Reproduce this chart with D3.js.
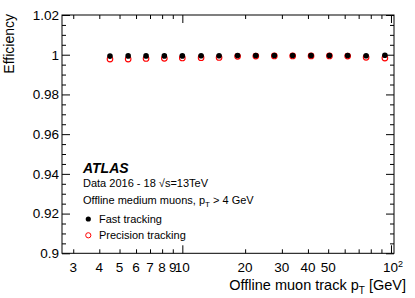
<!DOCTYPE html>
<html>
<head>
<meta charset="utf-8">
<script src="https://cdn.jsdelivr.net/npm/d3@7"></script>
<style>
body { margin:0; background:#fff; }
svg { display:block; font-family:"Liberation Sans", Arial, Helvetica, sans-serif; }
.axis path { stroke:#000; }
.axis line { stroke:#000; }
</style>
</head>
<body>
<svg id="chart" width="415" height="298"></svg>
<script>
// pT bin centres [GeV]
var pt_bins = [4.5, 5.5, 6.7, 8.2, 10, 12.3, 15, 18.4, 22.5, 27.6, 33.8, 41.4, 50.7, 62, 76, 93.5]
var eff_fast = [0.9993, 0.9994, 0.9994, 0.9994, 0.9994, 0.9995, 0.9995, 0.9996, 0.9996, 0.9996, 0.9996, 0.9996, 0.9996, 0.9996, 0.9995, 0.9997]
var eff_precision = [0.9978, 0.9978, 0.9981, 0.9982, 0.9984, 0.9985, 0.9986, 0.9992, 0.9993, 0.9994, 0.9994, 0.9994, 0.9994, 0.9993, 0.9987, 0.9983]
var x_major = [10, 100]
var x_minor = [3, 4, 5, 6, 7, 8, 9, 20, 30, 40, 50, 60, 70, 80, 90]
var x_labels = [3, 4, 5, 6, 7, 8, 9, 10, 20, 30, 40, 50, 100]
var y_major = [0.9, 0.92, 0.94, 0.96, 0.98, 1, 1.02]
var y_minor = [0.905, 0.91, 0.915, 0.925, 0.93, 0.935, 0.945, 0.95, 0.955, 0.965, 0.97, 0.975, 0.985, 0.99, 0.995, 1.005, 1.01, 1.015]
var info_lines = ['Data 2016 - 18 ', 'Offline medium muons, ']
var legend_names = ['Fast tracking', 'Precision tracking']

var svg = d3.select('#chart')
var m_left = 62, m_right = 394, m_top = 15, m_bottom = 253.3

var x = d3.scaleLog()
	.domain([2.65, 103.4])
	.range([m_left, m_right])
var y = d3.scaleLinear()
	.domain([0.9, 1.02])
	.range([m_bottom, m_top])

var fmt_y = function(d){ return String(+d.toFixed(2)) }

// frame
svg.append('rect')
	.attr('x', m_left).attr('y', m_top)
	.attr('width', m_right - m_left).attr('height', m_bottom - m_top)
	.attr('fill', 'none').attr('stroke', '#000').attr('stroke-width', 1)

function tickAxis(axis, tv, size, g_transform) {
	var g = svg.append('g')
		.attr('class', 'axis')
		.attr('transform', g_transform)
		.call(axis.tickValues(tv).tickSize(size).tickFormat(''))
	g.select('.domain').remove()
	return g
}
// minor and major ticks on all four sides, pointing inward
tickAxis(d3.axisBottom(x), x_minor, -4, 'translate(0,' + m_bottom + ')')
tickAxis(d3.axisBottom(x), x_major, -8, 'translate(0,' + m_bottom + ')')
tickAxis(d3.axisTop(x), x_minor, -4, 'translate(0,' + m_top + ')')
tickAxis(d3.axisTop(x), x_major, -8, 'translate(0,' + m_top + ')')
tickAxis(d3.axisLeft(y), y_minor, -4, 'translate(' + m_left + ',0)')
tickAxis(d3.axisLeft(y), y_major, -8, 'translate(' + m_left + ',0)')
tickAxis(d3.axisRight(y), y_minor, -4, 'translate(' + m_right + ',0)')
tickAxis(d3.axisRight(y), y_major, -8, 'translate(' + m_right + ',0)')

// y tick labels
svg.append('g')
	.selectAll('text')
	.data(y_major)
	.enter()
	.append('text')
	.attr('x', m_left - 3)
	.attr('y', function(d){ return y(d) + 4.8 })
	.attr('text-anchor', 'end')
	.attr('font-size', 13.5)
	.text(fmt_y)

// x tick labels
var xl = svg.append('g')
	.selectAll('text')
	.data(x_labels)
	.enter()
	.append('text')
	.attr('x', function(d){ return x(d) })
	.attr('y', 271.5)
	.attr('text-anchor', 'middle')
	.attr('font-size', 13.5)
xl.each(function(d){
	var t = d3.select(this)
	if (d === 100) {
		t.attr('x', x(d) + 2)
		t.append('tspan').text('10')
		t.append('tspan').attr('dy', -5).attr('font-size', 9).text('2')
	} else {
		t.text(d)
	}
})

// axis titles
svg.append('text')
	.attr('transform', 'translate(14,' + (m_top - 1) + ') rotate(-90)')
	.attr('text-anchor', 'end')
	.attr('font-size', 14)
	.text('Efficiency')

var xt = svg.append('text')
	.attr('x', 406)
	.attr('y', 290)
	.attr('text-anchor', 'end')
	.attr('font-size', 14.5)
xt.append('tspan').text('Offline muon track p')
xt.append('tspan').attr('dy', 4).attr('font-size', 10).text('T')
xt.append('tspan').attr('dy', -4).text(' [GeV]')

// data points
svg.append('g')
	.selectAll('circle')
	.data(pt_bins)
	.enter()
	.append('circle')
	.attr('cx', function(d){ return x(d) })
	.attr('cy', function(d,i){ return y(eff_precision[i]) })
	.attr('r', 2.8)
	.attr('fill', 'none')
	.attr('stroke', '#ff0000')
	.attr('stroke-width', 1.1)
svg.append('g')
	.selectAll('circle')
	.data(pt_bins)
	.enter()
	.append('circle')
	.attr('cx', function(d){ return x(d) })
	.attr('cy', function(d,i){ return y(eff_fast[i]) })
	.attr('r', 2.8)
	.attr('fill', '#000')

// labels
svg.append('text')
	.attr('x', 83).attr('y', 172.5)
	.attr('font-size', 14)
	.attr('font-weight', 'bold')
	.attr('font-style', 'italic')
	.text('ATLAS')

var l1 = svg.append('text')
	.attr('x', 83).attr('y', 187)
	.attr('font-size', 11)
l1.append('tspan').text(info_lines[0])
l1.append('tspan').text('\u221As=13TeV')

var l2 = svg.append('text')
	.attr('x', 83).attr('y', 204)
	.attr('font-size', 11)
l2.append('tspan').text(info_lines[1] + 'p')
l2.append('tspan').attr('dy', 3).attr('font-size', 8).text('T')
l2.append('tspan').attr('dy', -3).text(' > 4 GeV')

var leg = svg.append('g')
	.selectAll('g')
	.data(legend_names)
	.enter()
	.append('g')
	.attr('transform', function(d,i){ return 'translate(88.3,' + (219 + i*16.3) + ')' })
leg.append('circle')
	.attr('r', 2.6)
	.attr('fill', function(d,i){ return i === 0 ? '#000' : 'none' })
	.attr('stroke', function(d,i){ return i === 0 ? 'none' : '#ff0000' })
	.attr('stroke-width', 1)
leg.append('text')
	.attr('x', 10.7)
	.attr('y', 3.7)
	.attr('font-size', 11)
	.text(function(d){ return d })
</script>
</body>
</html>
